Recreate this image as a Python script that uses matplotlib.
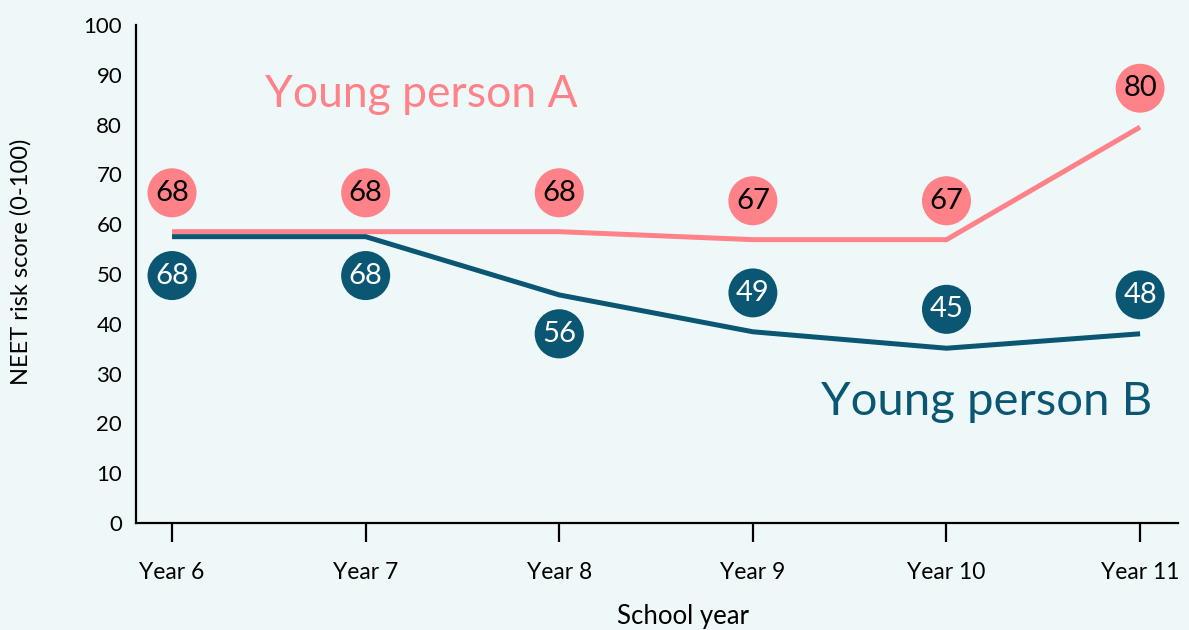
import numpy as np
import matplotlib
matplotlib.use("Agg")
import matplotlib.pyplot as plt

plt.rcParams['font.family'] = ['Lato', 'DejaVu Sans']

years = ["Year 6", "Year 7", "Year 8", "Year 9", "Year 10", "Year 11"]
# line heights as drawn
line_a = [58.5, 58.5, 58.5, 56.9, 56.9, 79.5]
line_b = [57.5, 57.5, 45.8, 38.4, 35.1, 38.0]
# numbers shown in the bubbles
score_a = [68, 68, 68, 67, 67, 80]
score_b = [68, 68, 56, 49, 45, 48]
# bubble above (1) or below (-1) the line
side_a = [1, 1, 1, 1, 1, 1]
side_b = [-1, -1, -1, 1, 1, 1]

pink = "#ff8289"
teal = "#0a5673"
bg = "#eff8f9"

fig = plt.figure(figsize=(11.89, 6.30), dpi=100, facecolor=bg)
ax = fig.add_axes([0.1144, 0.1698, 0.8764, 0.7905], facecolor=bg)

x = np.arange(len(years))
ax.plot(x, line_a, color=pink, lw=3.6, solid_capstyle="butt", zorder=2)
ax.plot(x, line_b, color=teal, lw=3.6, solid_capstyle="butt", zorder=2)

def bubbles(vals, scores, sides, fc, tc):
    for xi, v, s, sd in zip(x, vals, scores, sides):
        ax.annotate(str(s), (xi, v), xytext=(0, 28 * sd), textcoords="offset points",
                    ha="center", va="center", fontsize=21, color=tc, zorder=4,
                    bbox=dict(boxstyle="circle,pad=0.26", fc=fc, ec="none"))

bubbles(line_a, score_a, side_a, pink, "black")
bubbles(line_b, score_b, side_b, teal, "white")

ax.text(0.48, 86, "Young person A", color=pink, fontsize=32, ha="left", va="center")
ax.text(3.35, 24.3, "Young person B", color=teal, fontsize=34, ha="left", va="center")

ax.set_xlim(-0.186, 5.196)
ax.set_ylim(0, 100)
ax.set_yticks(range(0, 101, 10))
ax.set_xticks(x)
ax.set_xticklabels(years)
ax.tick_params(axis="y", length=0, pad=10, labelsize=16)
ax.tick_params(axis="x", length=14, width=1.6, pad=14, labelsize=16.5)
for sp in ["top", "right"]:
    ax.spines[sp].set_visible(False)
for sp in ["left", "bottom"]:
    ax.spines[sp].set_linewidth(1.6)

ax.set_xlabel("School year", fontsize=18.5)
ax.set_ylabel("NEET risk score (0-100)", fontsize=17)
ax.xaxis.set_label_coords(0.525, -0.163)
ax.yaxis.set_label_coords(-0.1, 0.524)

fig.savefig("out.png", dpi=100, facecolor=bg)
